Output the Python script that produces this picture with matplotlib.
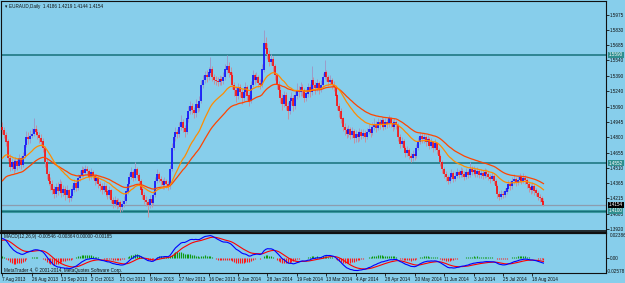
import numpy as np
import pandas as pd
import matplotlib
matplotlib.use("Agg")
import matplotlib.pyplot as plt
import matplotlib.transforms as mtransforms

# ---------------------------------------------------------------------------
# DATA  (EURAUD daily, prices in pips = 1e-4)
# ---------------------------------------------------------------------------
first_open = 14900
close = [
    14870, 14820, 14760, 14600, 14520, 14560, 14500, 14570, 14530, 14600,
    14540, 14620, 14730, 14800, 14780, 14810, 14830, 14880, 14850, 14820,
    14790, 14760, 14700, 14560, 14450, 14380, 14350, 14300, 14260, 14320,
    14290, 14350, 14270, 14300, 14250, 14290, 14220, 14240, 14300, 14360,
    14320, 14410, 14440, 14490, 14460, 14500, 14480, 14420, 14470, 14430,
    14380, 14410, 14350, 14330, 14300, 14330, 14280, 14250, 14290, 14200,
    14160, 14200, 14150, 14180, 14130, 14160, 14190, 14280, 14350, 14420,
    14470, 14410, 14500, 14440, 14380, 14300, 14250, 14200, 14180, 14150,
    14210, 14170, 14250, 14380, 14450, 14400, 14380, 14340, 14380, 14350,
    14330, 14500, 14700, 14800, 14850, 14830, 14900, 14950, 14890, 14850,
    14980, 15050, 15100, 15060, 15030, 15120, 15080, 15150, 15300, 15350,
    15400, 15380, 15420, 15450, 15380, 15350, 15340, 15330, 15360, 15340,
    15380, 15450, 15480, 15420, 15400, 15300, 15250, 15200, 15280, 15230,
    15180, 15230, 15280, 15200, 15150, 15300, 15400, 15350, 15380, 15320,
    15300, 15450, 15700, 15650, 15600, 15520, 15550, 15480, 15400, 15300,
    15250, 15180, 15120, 15200, 15100, 15050, 15150, 15180, 15100, 15200,
    15250, 15230, 15280, 15250, 15180, 15220, 15280, 15230, 15350, 15300,
    15270, 15320, 15260, 15300, 15380, 15420, 15380, 15330, 15350, 15300,
    15280, 15200, 15100, 15050, 14980, 14900, 14870, 14830, 14880, 14820,
    14860, 14790, 14830, 14800, 14850, 14810, 14840, 14800, 14850, 14880,
    14840, 14900, 14930, 14890, 14950, 14920, 14960, 14900, 14950, 14930,
    14980, 14940, 14900, 14950, 14920, 14800, 14740, 14760, 14700, 14650,
    14680, 14620, 14600, 14640, 14620, 14700, 14760, 14810, 14780, 14800,
    14760, 14780, 14720, 14750, 14700, 14740, 14680, 14620, 14560, 14500,
    14450, 14420, 14380, 14420, 14460, 14400, 14430, 14470, 14440, 14480,
    14450, 14420, 14470, 14440, 14500, 14470, 14490, 14450, 14480, 14440,
    14460, 14430, 14470, 14450, 14420, 14400, 14430, 14380, 14330, 14260,
    14230, 14260, 14250, 14280, 14310, 14350, 14330, 14380, 14400, 14360,
    14390, 14420, 14380, 14410, 14390, 14350, 14320, 14300, 14330, 14290,
    14270, 14230, 14220, 14186, 14154,
]
high = [
    14950, 14900, 14850, 14780, 14640, 14600, 14590, 14610, 14600, 14640,
    14620, 14660, 14780, 14860, 14850, 14870, 14890, 14990, 14920, 14880,
    14850, 14830, 14790, 14720, 14600, 14480, 14420, 14390, 14330, 14360,
    14370, 14400, 14380, 14340, 14330, 14340, 14310, 14280, 14340, 14400,
    14390, 14450, 14490, 14530, 14520, 14540, 14530, 14500, 14510, 14490,
    14450, 14450, 14430, 14380, 14360, 14370, 14350, 14310, 14330, 14310,
    14230, 14240, 14220, 14220, 14200, 14200, 14240, 14320, 14390, 14460,
    14520, 14490, 14560, 14520, 14460, 14400, 14330, 14280, 14240, 14210,
    14250, 14240, 14290, 14420, 14500, 14470, 14430, 14400, 14420, 14400,
    14380, 14540, 14750, 14850, 14900, 14880, 14950, 15010, 14980, 14920,
    15020, 15100, 15150, 15130, 15090, 15170, 15150, 15200, 15350, 15400,
    15440, 15450, 15470, 15570, 15480, 15410, 15390, 15380, 15400, 15390,
    15430, 15500, 15590, 15520, 15470, 15430, 15330, 15290, 15320, 15310,
    15260, 15270, 15330, 15300, 15230, 15340, 15450, 15420, 15430, 15400,
    15360, 15500, 15830, 15760, 15700, 15640, 15600, 15580, 15500, 15420,
    15340, 15290, 15220, 15240, 15230, 15140, 15200, 15230, 15210, 15240,
    15320, 15290, 15330, 15310, 15270, 15260, 15320, 15310, 15480, 15380,
    15330, 15360, 15340, 15350, 15420, 15540, 15450, 15400, 15400, 15370,
    15340, 15300, 15220, 15130, 15080, 15000, 14940, 14900, 14920, 14900,
    14900, 14880, 14870, 14860, 14890, 14880, 14880, 14870, 14890, 14930,
    14910, 14950, 14990, 14960, 14990, 14980, 15000, 14990, 14990, 14980,
    15010, 15000, 14970, 14990, 14970, 14940, 14830, 14800, 14780, 14720,
    14720, 14700, 14650, 14680, 14670, 14740, 14800, 14850, 14840, 14840,
    14820, 14820, 14800, 14790, 14770, 14780, 14760, 14700, 14640, 14580,
    14520, 14480, 14440, 14460, 14500, 14480, 14470, 14510, 14490, 14520,
    14510, 14480, 14510, 14490, 14560, 14530, 14530, 14510, 14520, 14500,
    14500, 14490, 14510, 14500, 14480, 14450, 14470, 14450, 14400, 14350,
    14290, 14300, 14290, 14320, 14350, 14390, 14380, 14420, 14450, 14420,
    14430, 14460, 14440, 14460, 14440, 14410, 14370, 14350, 14370, 14350,
    14320, 14290, 14260, 14240, 14219,
]
low = [
    14830, 14790, 14720, 14570, 14480, 14490, 14460, 14480, 14490, 14510,
    14500, 14520, 14600, 14710, 14740, 14750, 14790, 14810, 14820, 14780,
    14750, 14720, 14660, 14520, 14400, 14340, 14300, 14260, 14220, 14230,
    14250, 14270, 14230, 14240, 14200, 14220, 14180, 14190, 14220, 14280,
    14290, 14300, 14380, 14420, 14420, 14440, 14440, 14390, 14400, 14400,
    14340, 14360, 14320, 14290, 14260, 14270, 14240, 14210, 14220, 14170,
    14120, 14130, 14110, 14120, 14090, 14100, 14130, 14170, 14260, 14330,
    14400, 14380, 14390, 14410, 14340, 14270, 14210, 14160, 14140, 14040,
    14120, 14130, 14150, 14230, 14360, 14370, 14340, 14310, 14310, 14320,
    14300, 14310, 14480, 14680, 14770, 14790, 14800, 14870, 14850, 14800,
    14830, 14950, 15020, 15020, 14990, 15000, 15040, 15050, 15130, 15270,
    15320, 15330, 15350, 15400, 15340, 15310, 15300, 15290, 15300, 15300,
    15310, 15350, 15420, 15380, 15350, 15260, 15200, 15140, 15170, 15190,
    15120, 15150, 15200, 15160, 15100, 15130, 15280, 15310, 15330, 15280,
    15260, 15280, 15430, 15600, 15550, 15480, 15490, 15430, 15350, 15260,
    15200, 15130, 15060, 15090, 15060, 14980, 15020, 15110, 15050, 15070,
    15170, 15190, 15200, 15200, 15140, 15150, 15190, 15190, 15210, 15260,
    15220, 15240, 15220, 15230, 15280, 15360, 15340, 15290, 15300, 15260,
    15240, 15160, 15060, 15000, 14940, 14860, 14820, 14790, 14800, 14780,
    14790, 14750, 14760, 14760, 14770, 14780, 14790, 14760, 14780, 14830,
    14800, 14820, 14870, 14850, 14870, 14880, 14900, 14870, 14880, 14890,
    14900, 14900, 14860, 14880, 14880, 14770, 14700, 14710, 14660, 14610,
    14620, 14590, 14560, 14570, 14580, 14600, 14680, 14740, 14750, 14750,
    14720, 14730, 14690, 14700, 14660, 14680, 14640, 14590, 14530, 14460,
    14410, 14380, 14350, 14360, 14400, 14370, 14380, 14410, 14410, 14420,
    14420, 14390, 14400, 14410, 14420, 14440, 14440, 14420, 14420, 14410,
    14410, 14400, 14410, 14420, 14390, 14360, 14380, 14350, 14290, 14220,
    14200, 14210, 14220, 14230, 14260, 14290, 14300, 14310, 14350, 14330,
    14340, 14370, 14350, 14360, 14350, 14320, 14280, 14260, 14270, 14250,
    14240, 14200, 14180, 14150, 14144,
]

# moving averages / MACD starting levels read at the left edge
ema_fast_seed, ema_slow_seed = 14574, 14360
macd_fast_seed, macd_slow_seed, macd_signal_seed = 14720, 14520, 0.0175

date_labels = ["7 Aug 2013", "26 Aug 2013", "13 Sep 2013", "2 Oct 2013",
               "21 Oct 2013", "8 Nov 2013", "27 Nov 2013", "16 Dec 2013",
               "6 Jan 2014", "28 Jan 2014", "19 Feb 2014", "13 Mar 2014",
               "4 Apr 2014", "28 Apr 2014", "20 May 2014", "11 Jun 2014",
               "3 Jul 2014", "25 Jul 2014", "18 Aug 2014"]
price_ticks = [1.5975, 1.5830, 1.5685, 1.5540, 1.5390, 1.5240, 1.5090,
               1.4945, 1.4800, 1.4655, 1.4510, 1.4365, 1.4215, 1.4065, 1.3920]
level_lines = [1.5590, 1.4552, 1.4100]
bid_price = 1.4154

# ---------------------------------------------------------------------------
# STYLE
# ---------------------------------------------------------------------------
W, H = 625, 283
BG = "#87ceeb"
UP, DN = "#0000ff", "#ff0000"
WICK_UP, WICK_DN = "#9c9cc8", "#c8909c"
TEAL = "#16717a"
FS = 3.35
plt.rcParams["font.family"] = ["Liberation Sans", "DejaVu Sans"]
TXT = "#101010"


def rect(x0, y0, x1, y1):
    return [x0 / W, 1 - y1 / H, (x1 - x0) / W, (y1 - y0) / H]


c = np.array(close) / 1e4
h = np.array(high) / 1e4
l = np.array(low) / 1e4
o = np.r_[first_open, close[:-1]] / 1e4
x = np.arange(len(c))


def ema(values, span, seed):
    s = pd.Series(np.r_[seed, values]).ewm(span=span, adjust=False).mean()
    return s.values[1:]


ma_fast = ema(c, 21, ema_fast_seed / 1e4)
ma_slow = ema(c, 40, ema_slow_seed / 1e4)
macd = ema(c, 12, macd_fast_seed / 1e4) - ema(c, 26, macd_slow_seed / 1e4)
signal = ema(macd, 9, macd_signal_seed)
hist = macd - signal

BAR0, STEP = 2.5, 1.84
xlim = ((1.5 - BAR0) / STEP, (606 - BAR0) / STEP)

fig = plt.figure(figsize=(W / 100, H / 100), dpi=100, facecolor=BG)
ax = fig.add_axes(rect(1.5, 1, 606, 231), facecolor=BG)
axm = fig.add_axes(rect(1.5, 232.5, 606, 273), facecolor=BG)

# ---- main panel ----
for lv in level_lines[:2]:
    ax.axhline(lv, color=TEAL, lw=1.1, zorder=1)
ax.axhline(level_lines[2], color="#3a9aa0", lw=2.2, zorder=1)
ax.axhline(level_lines[2], color=TEAL, lw=0.8, zorder=1)
ax.axhline(bid_price, color="#8c9cae", lw=0.9, zorder=1)

up = c >= o
ax.vlines(x, l, h, colors=np.where(up, WICK_UP, WICK_DN), lw=0.7, zorder=2)
ax.vlines(x, np.minimum(o, c), np.maximum(o, c) + 0.0002,
          colors=np.where(up, UP, DN), lw=1.1, zorder=3)
ax.plot(x, ma_slow, color="#ff4500", lw=0.9, zorder=4)
ax.plot(x, ma_fast, color="#ff8c00", lw=0.9, zorder=4)

ax.set_xlim(*xlim)
ax.set_ylim(1.39037, 1.61062)
ax.yaxis.tick_right()
ax.set_yticks(price_ticks)
ax.set_yticklabels([f"{p:.4f}" for p in price_ticks])
ax.tick_params(axis="y", length=2, width=0.6, pad=1.0, labelsize=FS,
               colors=TXT)
ax.set_xticks([])

blend = mtransforms.blended_transform_factory(ax.transAxes, ax.transData)
for lv in level_lines:
    ax.text(1.0045, lv, f"{lv:.4f}", transform=blend, fontsize=FS,
            color="white", va="center", ha="left",
            bbox=dict(boxstyle="square,pad=0.15", fc="#2f8f8f", ec="none"))
ax.text(1.0045, bid_price, f"{bid_price:.4f}", transform=blend, fontsize=FS,
        color="white", va="center", ha="left",
        bbox=dict(boxstyle="square,pad=0.15", fc="black", ec="none"))

ax.text(0.006, 0.985, "\u25be", transform=ax.transAxes, fontsize=FS,
        va="top", ha="left", color=TXT, family="DejaVu Sans")
ax.text(0.013, 0.985, "EURAUD,Daily  1.4186 1.4219 1.4144 1.4154",
        transform=ax.transAxes, fontsize=FS, va="top", ha="left", color=TXT)

# ---- MACD panel ----
hcol = np.where(hist >= 0, "#0e9a0e", "#ff1a1a")
axm.vlines(x, 0, hist, colors=hcol, lw=0.8, zorder=2)
axm.plot(x, signal, color="#ff0000", lw=0.8, zorder=3)
axm.plot(x, macd, color="#0000ff", lw=0.8, zorder=4)
axm.set_xlim(*xlim)
axm.set_ylim(-0.0151, 0.0257)
axm.yaxis.tick_right()
axm.set_yticks([0.0])
axm.set_yticklabels(["0.00"])
axm.tick_params(axis="y", length=2, width=0.6, pad=1.0, labelsize=FS,
                colors=TXT)
axm.text(1.006, 0.93, "0.02386", transform=axm.transAxes, fontsize=FS,
         va="center", ha="left", color=TXT)
axm.text(1.002, 0.04, "-0.02578", transform=axm.transAxes, fontsize=FS,
         va="center", ha="left", color=TXT)
axm.text(0.004, 0.9, "MACD(12,26,9) -0.00546 -0.00364 0.00000 -0.00185",
         transform=axm.transAxes, fontsize=FS, va="center", ha="left",
         color=TXT)
axm.text(0.004, 0.07,
         "MetaTrader 4, \u00a9 2001-2014, MetaQuotes Software Corp.",
         transform=axm.transAxes, fontsize=FS, va="center", ha="left",
         color=TXT)

axm.set_xticks(np.arange(len(date_labels)) * 16)
axm.set_xticklabels(date_labels)
for lbl in axm.get_xticklabels():
    lbl.set_horizontalalignment("left")
axm.tick_params(axis="x", length=2, width=0.6, pad=1.2, labelsize=FS,
                colors=TXT)

for a in (ax, axm):
    for s in a.spines.values():
        s.set_color("#101010")
        s.set_linewidth(0.8)
axm.spines["top"].set_linewidth(1.6)
ax.spines["bottom"].set_linewidth(1.2)

fig.savefig("out.png", dpi=100, facecolor=BG)
